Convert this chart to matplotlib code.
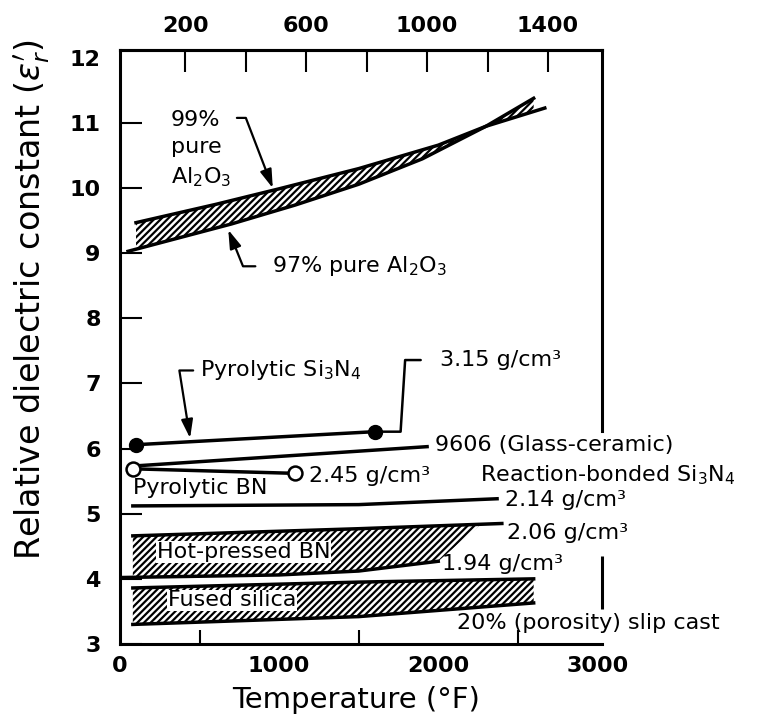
import numpy as np
import matplotlib.pyplot as plt

# temperature in °F, relative dielectric constant
al2o3_99_temp = [100, 600, 1000, 1500, 2000, 2300, 2670]
al2o3_99_eps = [9.47, 9.75, 9.99, 10.3, 10.66, 10.95, 11.23]
al2o3_97_temp = [50, 700, 1100, 1500, 1900, 2300, 2600]
al2o3_97_eps = [9.03, 9.45, 9.74, 10.06, 10.45, 10.95, 11.38]

pyro_si3n4_temp = [100, 1600]
pyro_si3n4_eps = [6.06, 6.26]

glass_9606_temp = [130, 1930]
glass_9606_eps = [5.74, 6.03]

pyro_bn_temp = [80, 1100]
pyro_bn_eps = [5.69, 5.62]

rbsn_214_temp = [80, 1500, 2370]
rbsn_214_eps = [5.12, 5.14, 5.23]

hp_bn_206_temp = [80, 1500, 2400]
hp_bn_206_eps = [4.66, 4.77, 4.85]
hp_bn_194_temp = [0, 1000, 1500, 2000]
hp_bn_194_eps = [4.02, 4.06, 4.12, 4.27]
hp_bn_hatch_end = (2260, 4.82)

silica_temp = [80, 1500, 2600]
silica_upper = [3.86, 3.95, 4.00]
silica_lower = [3.30, 3.42, 3.63]

x_ticks = [0, 1000, 2000, 3000]
x_minor = [500, 1000, 1500, 2000, 2500]
y_ticks = list(range(3, 13))
top_ticks = [200, 400, 600, 800, 1000, 1200, 1400]
top_labels = ['200', '', '600', '', '1000', '', '1400']

X_MAX = 3030
Y_MAX = 12.12
LW = 2.5
FS = 16
TICK_FS = 16
HATCH = '/////'

plt.rcParams['font.family'] = 'DejaVu Sans'
plt.rcParams['hatch.linewidth'] = 1.6
plt.rcParams['hatch.color'] = 'black'

fig = plt.figure(figsize=(7.65, 7.26), dpi=100)
ax = fig.add_axes([0.157, 0.113, 0.630, 0.818])
ax.set_xlim(0, X_MAX)
ax.set_ylim(3, Y_MAX)

# alumina band
t = np.linspace(al2o3_99_temp[0], al2o3_97_temp[-1], 300)
ax.fill_between(t, np.interp(t, al2o3_99_temp, al2o3_99_eps),
                np.interp(t, al2o3_97_temp, al2o3_97_eps),
                facecolor='white', edgecolor='black', hatch=HATCH, linewidth=0)
ax.plot(al2o3_99_temp, al2o3_99_eps, color='black', lw=LW)
ax.plot(al2o3_97_temp, al2o3_97_eps, color='black', lw=LW)

# hot-pressed BN band
t = np.linspace(hp_bn_206_temp[0], hp_bn_hatch_end[0], 300)
ax.fill_between(t, np.interp(t, hp_bn_206_temp, hp_bn_206_eps),
                np.interp(t, hp_bn_194_temp + [hp_bn_hatch_end[0]],
                          hp_bn_194_eps + [hp_bn_hatch_end[1]]),
                facecolor='white', edgecolor='black', hatch=HATCH, linewidth=0)
ax.plot(hp_bn_206_temp, hp_bn_206_eps, color='black', lw=LW)
ax.plot(hp_bn_194_temp, hp_bn_194_eps, color='black', lw=LW)

# fused silica band
t = np.linspace(silica_temp[0], silica_temp[-1], 300)
ax.fill_between(t, np.interp(t, silica_temp, silica_upper),
                np.interp(t, silica_temp, silica_lower),
                facecolor='white', edgecolor='black', hatch=HATCH, linewidth=0)
ax.plot(silica_temp, silica_upper, color='black', lw=LW)
ax.plot(silica_temp, silica_lower, color='black', lw=LW)

# single lines
ax.plot(glass_9606_temp, glass_9606_eps, color='black', lw=LW)
ax.plot(rbsn_214_temp, rbsn_214_eps, color='black', lw=LW)
ax.plot(pyro_si3n4_temp, pyro_si3n4_eps, color='black', lw=LW,
        marker='o', ms=10, mfc='black', mec='black')
ax.plot(pyro_bn_temp, pyro_bn_eps, color='black', lw=LW,
        marker='o', ms=10, mfc='white', mec='black', mew=1.8, zorder=3)

arrow = dict(arrowstyle='-|>,head_length=0.7,head_width=0.22', color='black',
             lw=1.6, shrinkA=2, shrinkB=0)

ax.annotate('99%\npure\nAl$_2$O$_3$', xy=(960, 10.0), xytext=(320, 11.2),
            ha='left', va='top', linespacing=1.45, fontsize=FS,
            arrowprops=dict(arrow, relpos=(1.0, 0.9),
                            connectionstyle='angle,angleA=0,angleB=111,rad=0'))
ax.annotate('97% pure Al$_2$O$_3$', xy=(680, 9.36), xytext=(955, 8.80),
            ha='left', va='center', fontsize=FS,
            arrowprops=dict(arrow, relpos=(0.0, 0.5), shrinkA=10,
                            connectionstyle='angle,angleA=180,angleB=112,rad=0'))
ax.annotate('Pyrolytic Si$_3$N$_4$', xy=(440, 6.16), xytext=(503, 7.2),
            ha='left', va='center', fontsize=FS,
            arrowprops=dict(arrow, relpos=(0.0, 0.5), shrinkA=3,
                            connectionstyle='angle,angleA=180,angleB=99,rad=0'))
ax.annotate('3.15 g/cm³', xy=(pyro_si3n4_temp[-1], pyro_si3n4_eps[-1]),
            xytext=(2012, 7.36), ha='left', va='center', fontsize=FS,
            arrowprops=dict(arrowstyle='-', color='black', lw=1.8,
                            relpos=(0.0, 0.5), shrinkA=12, shrinkB=0,
                            connectionstyle='arc,angleA=180,angleB=0,'
                                            'armA=35,armB=26,rad=0'))

# labels at line ends
ax.annotate('9606 (Glass-ceramic)', xy=(glass_9606_temp[-1], glass_9606_eps[-1]),
            xytext=(6, 1), textcoords='offset points', ha='left', va='center',
            fontsize=FS)
ax.annotate('2.45 g/cm³', xy=(pyro_bn_temp[-1], pyro_bn_eps[-1]),
            xytext=(10, -2), textcoords='offset points', ha='left', va='center',
            fontsize=FS)
ax.annotate('2.14 g/cm³', xy=(rbsn_214_temp[-1], rbsn_214_eps[-1]),
            xytext=(6, -1), textcoords='offset points', ha='left', va='center',
            fontsize=FS)
ax.annotate('2.06 g/cm³', xy=(hp_bn_206_temp[-1], hp_bn_206_eps[-1]),
            xytext=(4, -7), textcoords='offset points', ha='left', va='center',
            fontsize=FS)
ax.annotate('1.94 g/cm³', xy=(hp_bn_194_temp[-1], hp_bn_194_eps[-1]),
            xytext=(3, -2), textcoords='offset points', ha='left', va='center',
            fontsize=FS)

ax.text(82, 5.39, 'Pyrolytic BN', ha='left', va='center', fontsize=FS)
ax.text(2263, 5.59, 'Reaction-bonded Si$_3$N$_4$', ha='left', va='center',
        fontsize=FS)
ax.text(233, 4.41, 'Hot-pressed BN', ha='left', va='center', fontsize=FS,
        bbox=dict(facecolor='white', edgecolor='none', pad=0.5))
ax.text(302, 3.67, 'Fused silica', ha='left', va='center', fontsize=FS,
        bbox=dict(facecolor='white', edgecolor='none', pad=0.5))
ax.text(2118, 3.32, '20% (porosity) slip cast', ha='left', va='center',
        fontsize=FS)

# frame
for side in ['left', 'right', 'top', 'bottom']:
    ax.spines[side].set_linewidth(2.2)
ax.spines['right'].set_bounds(6.27, Y_MAX)
ax.plot([X_MAX, X_MAX], [3.54, 4.35], color='black', lw=2.2, clip_on=False,
        solid_capstyle='butt')

ax.set_xticks(x_ticks)
ax.set_xticks(x_minor, minor=True)
ax.tick_params(axis='x', which='major', length=0, pad=9, labelsize=TICK_FS)
ax.tick_params(axis='x', which='minor', direction='in', length=10, width=1.5)
ax.set_yticks(y_ticks)
ax.tick_params(axis='y', direction='in', length=16, width=1.5, pad=14,
               labelsize=TICK_FS)
ax.yaxis.get_major_ticks()[-1].tick1line.set_visible(False)
plt.setp(ax.get_xticklabels() + ax.get_yticklabels(), fontweight='bold')


# upper scale in °C
def f_to_c(f):
    return (np.asarray(f) - 30) / 1.9


def c_to_f(c):
    return np.asarray(c) * 1.9 + 30


secax = ax.secondary_xaxis('top', functions=(f_to_c, c_to_f))
secax.set_xticks(top_ticks, labels=top_labels)
secax.tick_params(direction='in', length=16, width=1.5, pad=10,
                  labelsize=TICK_FS)
secax.spines['top'].set_linewidth(2.2)
plt.setp(secax.get_xticklabels(), fontweight='bold')

ax.set_xlabel('Temperature (°F)', fontsize=21)
ax.xaxis.set_label_coords(0.49, -0.07)
ax.xaxis.label.set_va('top')
ax.set_ylabel("Relative dielectric constant ($\\epsilon_r'$)", fontsize=24)
ax.yaxis.set_label_coords(-0.14, 0.58)

fig.savefig('out.png', dpi=100)
